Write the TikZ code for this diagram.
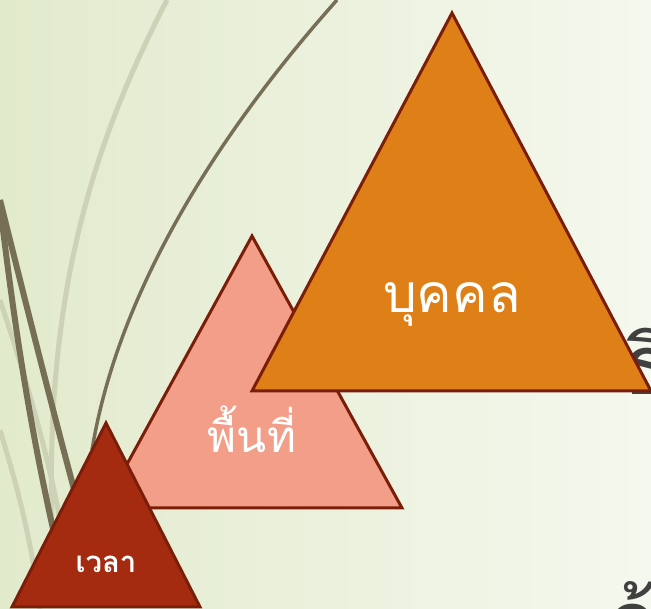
\documentclass[tikz,border=0pt]{standalone}
\usepackage{fontspec}
\newfontfamily\thaifont[Script=Thai]{Loma}
\usetikzlibrary{positioning}
\definecolor{bgleft}{RGB}{226,234,204}
\definecolor{bgright}{RGB}{245,248,238}
\definecolor{stemdark}{RGB}{118,111,85}
\definecolor{stempale}{RGB}{205,210,182}
\definecolor{rimred}{RGB}{122,30,10}
\definecolor{peakorange}{RGB}{223,127,24}
\definecolor{peaksalmon}{RGB}{242,158,136}
\definecolor{peakred}{RGB}{165,43,16}
\definecolor{inkgray}{RGB}{64,64,64}

\begin{document}
\begin{tikzpicture}[
    x=0.75pt, y=-0.75pt,
    peak/.style={draw=rimred, line width=2.25pt, line join=miter},
    peaktext/.style={text=white, inner sep=0pt, anchor=base},
    cuttext/.style={text=inkgray, inner sep=0pt, anchor=base west,
        font=\thaifont\fontsize{62}{66}\selectfont},
    stem/.style={draw=stemdark, line width=4.5pt},
    palestem/.style={draw=stempale, line width=3.75pt}
]
\useasboundingbox (0,0) rectangle (651,609);
\clip (0,0) rectangle (651,609);
\shade[left color=bgleft, right color=bgright] (0,0) rectangle (651,609);

% background stems
\draw[palestem] (167,0) .. controls (100,130) and (45,280) .. (52,520);
\draw[palestem] (0,300) .. controls (20,360) and (45,440) .. (60,520);
\draw[palestem] (0,430) .. controls (15,480) and (30,530) .. (40,609);
\draw[stemdark, line width=2.6pt] (337,0) .. controls (230,120) and (120,280) .. (92,450);
\draw[stem] (0,200) .. controls (25,300) and (55,420) .. (85,530);
\draw[stem] (0,205) .. controls (15,330) and (30,430) .. (60,560);

% text running off the page
\node[cuttext] (rightcut) at (622,395) {ธิ};
\node[cuttext] (bottomcut) at (607,651) {ก้};

% triangles
\coordinate (areatop) at (252,236);
\coordinate (persontop) at (452,13);
\coordinate (timetop) at (106,423);
\filldraw[peak, fill=peaksalmon] (areatop) -- (402,508) -- (103,508) -- cycle;
\filldraw[peak, fill=peakorange] (persontop) -- (651,391) -- (252,391) -- cycle;
\filldraw[peak, fill=peakred] (timetop) -- (200,607) -- (12,607) -- cycle;

\node[peaktext, font=\thaifont\fontsize{40}{44}\selectfont] (person) at (452,313) {บุคคล};
\node[peaktext, font=\thaifont\fontsize{33}{36}\selectfont] (area) at (252,453) {พื้นที่};
\node[peaktext, font=\thaifont\bfseries\fontsize{22}{25}\selectfont] (time) at (106,573) {เวลา};
\end{tikzpicture}
\end{document}
